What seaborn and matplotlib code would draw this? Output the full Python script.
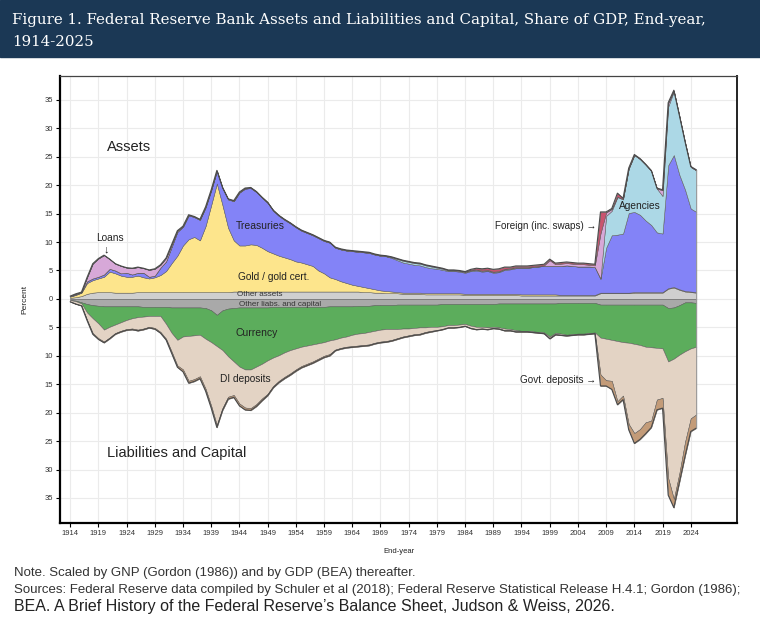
import numpy as np
import pandas as pd
import matplotlib
matplotlib.use("Agg")
import matplotlib.pyplot as plt
import seaborn as sns

years = list(range(1914, 2026))

# ---- assets (stacked upward, in this order) ----
other_assets = [
    .2, .3, .5, .9, 1.1, 1.2, 1.2, 1.2, 1.1, 1.1,
    1.1, 1.1, 1.2, 1.2, 1.2, 1.2, 1.2, 1.2, 1.2, 1.2,
    1.2, 1.2, 1.2, 1.2, 1.2, 1.2, 1.2, 1.2, 1.2, 1.3,
    1.3, 1.3, 1.3, 1.3, 1.3, 1.3, 1.3, 1.3, 1.3, 1.3,
    1.3, 1.3, 1.3, 1.3, 1.3, 1.3, 1.3, 1.3, 1.3, 1.3,
    1.3, 1.3, 1.2, 1.2, 1.1, 1.1, 1.0, 1.0, 1.0, .9,
    .9, .9, .9, .8, .8, .8, .8, .8, .8, .8,
    .7, .7, .7, .7, .7, .7, .7, .7, .7, .7,
    .6, .6, .6, .6, .6, .6, .6, .6, .6, .6,
    .6, .6, .6, .6, 1.0, 1.0, 1.0, 1.0, 1.0, 1.0,
    1.1, 1.1, 1.1, 1.1, 1.1, 1.1, 1.8, 2.0, 1.6, 1.3,
    1.2, 1.1]
gold = [
    .2, .4, .6, 1.9, 2.2, 2.4, 2.7, 3.6, 3.4, 3.0,
    2.8, 2.8, 2.9, 2.6, 2.4, 2.6, 3.0, 3.7, 5.1, 6.4,
    8.2, 9.3, 9.7, 9.1, 11.6, 15.3, 19.1, 15.3, 11.3, 9.0,
    8.1, 8.1, 8.3, 8.2, 7.7, 7.1, 6.7, 6.3, 6.0, 5.7,
    5.3, 5.1, 4.8, 4.5, 3.7, 3.2, 2.5, 2.2, 1.8, 1.5,
    1.2, 1.0, .9, .7, .6, .4, .4, .3, .2, .2,
    .2, .2, .2, .2, .2, .2, .2, .2, .2, .2,
    .2, .2, .2, .2, .2, .2, .2, .2, .2, .2,
    .2, .2, .2, .2, .2, .2, .2, .1, .1, .1,
    .1, .1, .1, .1, .1, .1, .1, .1, .1, .1,
    .1, .1, .1, .1, .1, .1, .1, .1, .1, .1,
    .1, .1]
treasuries = [
    .05, .1, .05, .3, .3, .3, .4, .5, .5, .4,
    .7, .4, .5, .8, .3, .3, 1.3, 1.7, 2.9, 4.2,
    3.3, 4.2, 3.5, 3.6, 3.3, 2.6, 2.2, 3.0, 5.0, 6.9,
    9.3, 10.0, 9.9, 9.3, 8.8, 8.5, 7.5, 7.0, 6.6, 6.3,
    6.0, 5.6, 5.5, 5.4, 5.7, 5.7, 6.1, 5.5, 5.6, 5.7,
    5.9, 6.0, 6.1, 6.2, 6.1, 6.1, 6.1, 5.9, 5.6, 5.3,
    5.1, 4.9, 4.8, 4.6, 4.4, 4.3, 4.1, 3.9, 3.9, 3.8,
    3.7, 4.0, 4.1, 3.9, 4.0, 3.7, 3.8, 4.2, 4.3, 4.5,
    4.6, 4.6, 4.8, 4.9, 5.0, 5.0, 5.0, 5.1, 5.2, 5.1,
    5.0, 5.0, 5.0, 4.9, 2.4, 7.9, 10.1, 10.2, 10.4, 14.0,
    14.1, 13.6, 12.6, 11.8, 10.5, 10.3, 21.6, 23.2, 20.1, 17.8,
    14.6, 14.1]
agencies = [
    0, 0, 0, 0, 0, 0, 0, 0, 0, 0,
    0, 0, 0, 0, 0, 0, 0, 0, 0, 0,
    0, 0, 0, 0, 0, 0, 0, 0, 0, 0,
    0, 0, 0, 0, 0, 0, 0, 0, 0, 0,
    0, 0, 0, 0, 0, 0, 0, 0, 0, 0,
    0, 0, 0, 0, 0, 0, 0, .1, .2, .3,
    .3, .3, .3, .3, .3, .2, .2, .1, .1, .1,
    .1, .1, .1, .1, .1, .1, .1, .1, .1, .1,
    .1, .1, 0, 0, 0, 0, 0, 0, 0, 0,
    0, 0, 0, 0, .1, 5.6, 4.3, 6.6, 6.0, 7.8,
    10.0, 9.8, 9.8, 9.5, 7.7, 6.6, 10.3, 11.2, 10.2, 8.2,
    7.3, 7.3]
loans = [
    .05, .1, .05, .7, 2.6, 3.2, 3.4, 1.7, 1.2, 1.3,
    .9, 1.1, 1.0, .8, 1.2, 1.2, .5, .6, .4, .2,
    .1, .1, .1, .1, .1, .1, .1, .1, .1, .1,
    .1, .1, .1, .1, .1, .1, .1, .1, .1, .1,
    .1, .1, .1, .1, .1, .1, .1, .1, .1, .1,
    .1, .1, .1, .1, .1, .1, .1, .1, .1, .1,
    .1, .1, .1, .1, .1, .1, .1, .1, .1, .1,
    .1, .1, .1, .1, .1, .1, .1, .1, .1, .1,
    .1, .1, .1, .1, .1, 1.0, .3, .4, .4, .4,
    .4, .4, .3, .3, 7.9, .6, .3, .1, .1, 0,
    0, 0, 0, 0, 0, 1.0, .6, .1, .1, .1,
    0, 0]
foreign = [
    0, 0, 0, 0, 0, 0, 0, 0, 0, 0,
    0, 0, 0, 0, 0, 0, 0, 0, 0, 0,
    0, 0, 0, 0, 0, 0, 0, 0, 0, 0,
    0, 0, 0, 0, 0, 0, 0, 0, 0, 0,
    0, 0, 0, 0, 0, 0, 0, 0, 0, 0,
    0, 0, 0, 0, 0, 0, 0, 0, 0, 0,
    0, 0, 0, 0, 0, 0, 0, 0, 0, 0,
    0, .1, .2, .3, .3, .4, .4, .3, .2, .2,
    .2, .2, .2, .2, .2, .2, .2, .2, .2, .2,
    .2, .2, .2, .2, 3.8, .1, .1, .6, .1, .1,
    .1, .1, .1, .1, .1, .1, .1, .1, .1, .1,
    .1, .1]

# ---- liabilities and capital (stacked downward, in this order) ----
other_liabs = [
    .2, .3, .6, .9, 1.1, 1.2, 1.3, 1.3, 1.3, 1.3,
    1.3, 1.3, 1.3, 1.4, 1.4, 1.4, 1.4, 1.4, 1.5, 1.5,
    1.5, 1.5, 1.5, 1.5, 1.6, 2.0, 2.8, 2.0, 1.7, 1.6,
    1.5, 1.5, 1.5, 1.5, 1.5, 1.5, 1.4, 1.4, 1.4, 1.4,
    1.4, 1.4, 1.4, 1.4, 1.4, 1.4, 1.3, 1.3, 1.3, 1.3,
    1.3, 1.2, 1.2, 1.2, 1.1, 1.1, 1.1, 1.1, 1.0, 1.0,
    1.0, 1.0, 1.0, 1.0, 1.0, 1.0, .9, .9, .9, .9,
    .9, .9, .9, .9, .9, .9, .8, .8, .8, .8,
    .8, .8, .8, .8, .8, .8, .8, .7, .7, .7,
    .7, .7, .7, .7, 1.0, 1.0, 1.0, 1.0, 1.0, 1.0,
    1.0, 1.0, 1.0, 1.0, 1.0, 1.0, 1.6, 1.5, 1.1, .6,
    .6, .7]
currency = [
    0, .1, .2, 1.5, 2.3, 3.1, 4.1, 3.6, 3.2, 2.8,
    2.4, 2.1, 1.9, 1.7, 1.6, 1.6, 1.6, 3.0, 4.5, 5.7,
    5.1, 5.0, 4.9, 4.8, 5.4, 5.6, 5.5, 7.0, 8.4, 9.4,
    10.4, 10.9, 10.9, 10.4, 9.9, 9.3, 8.9, 8.5, 8.0, 7.6,
    7.3, 7.0, 6.8, 6.6, 6.4, 6.2, 6.0, 5.8, 5.5, 5.3,
    5.0, 4.9, 4.8, 4.6, 4.5, 4.3, 4.2, 4.2, 4.3, 4.2,
    4.2, 4.1, 4.0, 4.0, 3.9, 3.9, 3.9, 3.7, 3.7, 3.6,
    3.5, 3.8, 4.0, 4.0, 4.1, 4.0, 4.2, 4.4, 4.5, 4.7,
    4.8, 4.8, 4.9, 5.0, 5.1, 5.8, 5.2, 5.4, 5.6, 5.5,
    5.4, 5.4, 5.3, 5.2, 5.8, 6.0, 6.2, 6.4, 6.6, 6.7,
    6.9, 7.1, 7.4, 7.5, 7.6, 7.7, 9.4, 9.0, 8.7, 8.6,
    8.1, 7.7]
di_deposits = [
    .25, .45, .35, 1.3, 2.6, 2.6, 2.1, 1.9, 1.5, 1.5,
    1.6, 1.8, 2.2, 2.1, 1.9, 2.1, 2.8, 2.6, 3.3, 4.5,
    5.8, 7.9, 7.7, 7.3, 8.8, 11.2, 13.9, 10.2, 7.1, 5.9,
    6.5, 6.7, 6.8, 6.6, 6.1, 5.9, 5.0, 4.5, 4.3, 4.1,
    3.7, 3.4, 3.2, 3.0, 2.7, 2.4, 2.4, 1.8, 1.8, 1.8,
    2.0, 2.1, 2.1, 2.2, 2.1, 2.1, 2.1, 1.9, 1.6, 1.4,
    1.2, 1.1, 1.1, .8, .7, .6, .5, .4, .4, .4,
    .3, .4, .4, .3, .3, .2, .2, .3, .2, .2,
    .1, .1, .1, .1, .1, .3, .2, .2, .1, .1,
    .1, .1, .1, .1, 6.5, 7.3, 7.2, 10.6, 9.4, 14.3,
    15.7, 14.8, 13.3, 12.9, 9.1, 8.7, 20.5, 24.7, 20.8, 15.9,
    12.3, 11.9]
govt_deposits = [
    .05, .05, .05, .1, .2, .2, .2, .2, .2, .2,
    .2, .2, .2, .2, .2, .2, .2, .2, .3, .3,
    .4, .4, .4, .4, .4, .4, .4, .4, .4, .4,
    .4, .4, .4, .4, .4, .3, .3, .3, .3, .3,
    .3, .3, .3, .3, .3, .3, .3, .2, .2, .2,
    .2, .2, .2, .2, .2, .2, .2, .2, .2, .2,
    .2, .2, .2, .2, .2, .1, .1, .1, .1, .1,
    .1, .1, .1, .1, .1, .1, .1, .1, .1, .1,
    .1, .1, .1, .1, .1, .1, .1, .1, .1, .1,
    .1, .1, .1, .1, 2.0, 1.0, 1.5, .6, .7, 1.0,
    1.8, 1.8, 2.0, 1.2, 1.8, 1.8, 3.0, 1.5, 1.6, 2.5,
    2.3, 2.4]

asset_cols = ["#cfcfcf", "#fde58c", "#8383f7", "#acd8e6", "#d7a8d8", "#c9546f"]
liab_cols = ["#a9a9a9", "#5cad5c", "#e3d3c4", "#c39b78"]

sns.set_theme(style="whitegrid")
plt.rcParams["font.family"] = ["Liberation Sans", "DejaVu Sans"]

df = pd.DataFrame({
    "year": years,
    "other_assets": other_assets, "gold": gold, "treasuries": treasuries,
    "agencies": agencies, "loans": loans, "foreign": foreign,
    "other_liabs": other_liabs, "currency": currency,
    "di_deposits": di_deposits, "govt_deposits": govt_deposits,
})
assets = ["other_assets", "gold", "treasuries", "agencies", "loans", "foreign"]
liabs = ["other_liabs", "currency", "di_deposits", "govt_deposits"]

fig = plt.figure(figsize=(7.6, 6.3), dpi=100)
ax = fig.add_axes([60 / 760, 1 - 523 / 630, 677 / 760, 447 / 630])

ax.stackplot(df["year"], *[df[c] for c in assets], colors=asset_cols,
             edgecolor="#5a5a5a", linewidth=0.35)
ax.stackplot(df["year"], *[-df[c] for c in liabs], colors=liab_cols,
             edgecolor="#5a5a5a", linewidth=0.35)

# outer envelope drawn with seaborn
env = pd.concat([
    pd.DataFrame({"year": years, "value": df[assets].sum(axis=1), "side": "assets"}),
    pd.DataFrame({"year": years, "value": -df[liabs].sum(axis=1), "side": "liabs"}),
])
sns.lineplot(data=env, x="year", y="value", units="side", estimator=None,
             color="#4a4a4a", linewidth=0.8, ax=ax, legend=False)
ax.plot([years[-1], years[-1]], [-df[liabs].sum(axis=1).iloc[-1], df[assets].sum(axis=1).iloc[-1]],
        color="#9a9a9a", linewidth=0.6)

ax.set_xlim(1912.2, 2032.2)
ax.set_ylim(-39.4, 39.2)
ax.set_xticks(range(1914, 2025, 5))
ax.set_yticks(range(-35, 40, 5))
ax.set_yticklabels([str(abs(v)) for v in range(-35, 40, 5)])
ax.tick_params(axis="both", labelsize=5.5, colors="#333333", length=3, width=0.8,
               direction="out", pad=2)
ax.tick_params(axis="both", color="black")
ax.xaxis.set_ticks_position("bottom")
ax.yaxis.set_ticks_position("left")
ax.grid(True, color="#ebebeb", linewidth=0.8)
ax.set_facecolor("white")
for s in ["left", "bottom"]:
    ax.spines[s].set_color("black")
    ax.spines[s].set_linewidth(1.6)
ax.spines["right"].set_color("#222222")
ax.spines["right"].set_linewidth(1.4)
ax.spines["top"].set_color("#444444")
ax.spines["top"].set_linewidth(0.9)
ax.set_xlabel("End-year", fontsize=5.5, labelpad=8, color="#222222")
ax.set_ylabel("Percent", fontsize=6, labelpad=12, color="#222222")

# labels
ax.text(1920.5, 26.8, "Assets", fontsize=10.5, ha="left", va="center", color="#222222")
ax.text(1920.5, -27.1, "Liabilities and Capital", fontsize=10.5, ha="left",
        va="center", color="#222222")
ax.text(1921.1, 10.8, "Loans", fontsize=7.3, ha="center", va="center", color="#222222")
ax.text(1920.4, 8.7, "\u2193", fontsize=8, ha="center", va="center", color="#222222")
ax.text(1947.7, 12.8, "Treasuries", fontsize=7.5, ha="center", va="center", color="#222222")
ax.text(1950.0, 3.9, "Gold / gold cert.", fontsize=7.3, ha="center", va="center", color="#222222")
ax.text(1947.6, 0.75, "Other assets", fontsize=5.8, ha="center", va="center", color="#333333")
ax.text(1951.2, -0.95, "Other liabs. and capital", fontsize=5.8, ha="center",
        va="center", color="#333333")
ax.text(1947.1, -6.0, "Currency", fontsize=7.5, ha="center", va="center", color="#222222")
ax.text(1945.0, -14.1, "DI deposits", fontsize=7.3, ha="center", va="center", color="#222222")
ax.text(2015.0, 16.3, "Agencies", fontsize=7.3, ha="center", va="center", color="#222222")
ax.text(2007.3, 12.9, "Foreign (inc. swaps) \u2192", fontsize=7.1, ha="right",
        va="center", color="#222222")
ax.text(2007.2, -14.2, "Govt. deposits \u2192", fontsize=7.1, ha="right",
        va="center", color="#222222")

# title banner
fig.patches.append(plt.Rectangle((0, 1 - 57 / 630), 1, 57 / 630, transform=fig.transFigure,
                                 color="#1b3855", zorder=0))
title_kw = dict(color="white", fontsize=10.8, family=["DejaVu Serif"], ha="left", va="center")
fig.text(12 / 760, 1 - 20 / 630,
         "Figure 1. Federal Reserve Bank Assets and Liabilities and Capital, Share of GDP, End-year,",
         **title_kw)
fig.text(12 / 760, 1 - 42 / 630, "1914-2025", **title_kw)

# notes
note_kw = dict(fontsize=9.5, color="#333333", ha="left", va="center")
fig.text(14 / 760, 1 - 573 / 630, "Note. Scaled by GNP (Gordon (1986)) and by GDP (BEA) thereafter.",
         **note_kw)
fig.text(14 / 760, 1 - 590 / 630,
         "Sources: Federal Reserve data compiled by Schuler et al (2018); Federal Reserve "
         "Statistical Release H.4.1; Gordon (1986);", **note_kw)
fig.text(14 / 760, 1 - 607 / 630,
         "BEA. A Brief History of the Federal Reserve\u2019s Balance Sheet, Judson & Weiss, 2026.",
         fontsize=11.5, color="#222222", ha="left", va="center")

fig.savefig("out.png", dpi=100, facecolor="white")
